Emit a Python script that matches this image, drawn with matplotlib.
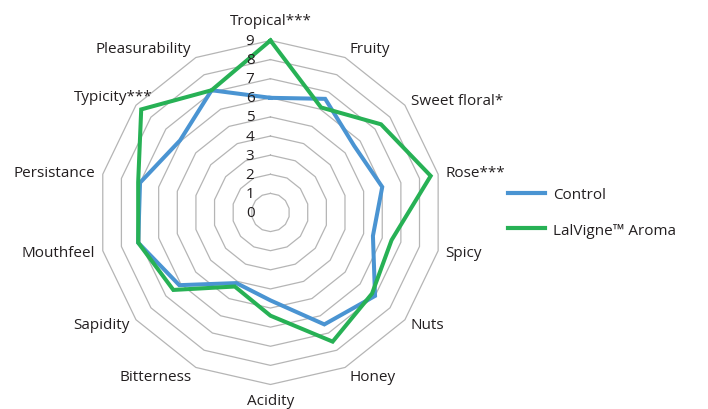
import numpy as np
import matplotlib
matplotlib.use('Agg')
import matplotlib.pyplot as plt
from matplotlib.lines import Line2D

categories = ['Tropical***', 'Fruity', 'Sweet floral*', 'Rose***', 'Spicy', 'Nuts',
              'Honey', 'Acidity', 'Bitterness', 'Sapidity', 'Mouthfeel',
              'Persistance', 'Typicity***', 'Pleasurability']
control = [6.0, 6.6, 5.6, 6.0, 5.5, 7.0, 6.5, 4.6, 4.1, 6.1, 7.1, 7.0, 6.05, 7.1]
lalvigne = [9.0, 6.1, 7.4, 8.6, 6.5, 6.8, 7.5, 5.4, 4.3, 6.5, 7.1, 7.1, 8.65, 7.1]
series_names = ['Control', 'LalVigne™ Aroma']
ring_values = list(range(0, 10))

BLUE = '#4A94D2'
GREEN = '#27B155'
GRID = '#b5b5b5'
TEXT = '#231f20'
FS = 11

plt.rcParams['font.family'] = ['Open Sans', 'DejaVu Sans']

fig = plt.figure(figsize=(7.08, 4.10), dpi=100)
ax = fig.add_axes([0.139, 0.0598, 0.486, 0.839], projection='polar')
ax.set_theta_zero_location('N')
ax.set_theta_direction(-1)

n = len(categories)
theta = np.arange(n) * 2 * np.pi / n
tc = np.append(theta, theta[0])

rmax = ring_values[-1]
for k in ring_values[1:]:
    ax.plot(tc, [k] * (n + 1), color=GRID, lw=0.9, zorder=1, clip_on=False)

for vals, col, name in [(control, BLUE, series_names[0]), (lalvigne, GREEN, series_names[1])]:
    ax.plot(tc, list(vals) + [vals[0]], color=col, lw=2.9, zorder=3,
            solid_joinstyle='miter', clip_on=False, label=name)

# radial value labels
for k in ring_values:
    ax.annotate(str(k), xy=(0, k), xytext=(-11.5, 0), textcoords='offset points',
                ha='right', va='center', fontsize=FS, color=TEXT, annotation_clip=False)

# category labels
extra = {'Typicity***': (16, 3)}
for t, lab in zip(theta, categories):
    s = np.sin(t)  # horizontal component (clockwise from north)
    c = np.cos(t)
    if abs(s) < 0.05:
        ha = 'center'
        r = rmax + 1.05 if c > 0 else rmax + 0.85
    else:
        ha = 'left' if s > 0 else 'right'
        r = rmax + 0.4 if abs(s) > 0.5 else rmax + 0.55
    off = extra.get(lab, (0, 0))
    ax.annotate(lab, xy=(t, r), xytext=off, textcoords='offset points',
                ha=ha, va='center', fontsize=FS, color=TEXT, annotation_clip=False)

ax.set_ylim(0, rmax)
ax.set_xticks([])
ax.set_yticks([])
ax.grid(False)
ax.spines['polar'].set_visible(False)
ax.patch.set_alpha(0)

handles = [Line2D([], [], color=BLUE, lw=3), Line2D([], [], color=GREEN, lw=3)]
fig.legend(handles, series_names, loc='center left', bbox_to_anchor=(0.718, 0.48),
           frameon=False, fontsize=FS, handlelength=2.4, handletextpad=0.5,
           labelspacing=1.35, borderpad=0, borderaxespad=0, labelcolor=TEXT)

fig.savefig('out.png', dpi=100)
